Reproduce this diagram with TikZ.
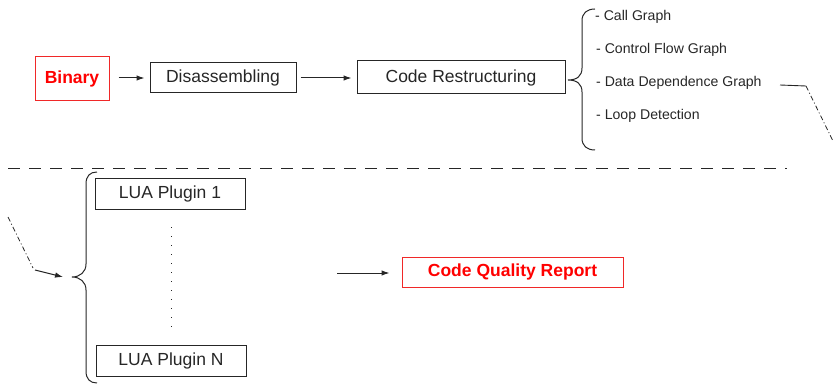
\documentclass[tikz,border=0pt]{standalone}
\usepackage{fontspec}
\setmainfont{Liberation Sans}
\usetikzlibrary{arrows.meta}
\definecolor{alertred}{RGB}{255,0,0}
\definecolor{alertframe}{RGB}{240,40,40}
\begin{document}
\begin{tikzpicture}[x=1pt,y=-1pt,
  stagebox/.style={draw=black!85,line width=1pt,text=black!85,inner sep=0pt,
    font=\fontsize{17.5}{20}\selectfont},
  alertbox/.style={draw=alertframe,line width=1pt,text=alertred,inner sep=0pt,
    font=\fontsize{17.5}{20}\selectfont\bfseries},
  listitem/.style={anchor=base west,inner sep=0pt,text=black!85,
    font=\fontsize{14.1}{16}\selectfont},
  flow/.style={line width=1pt,black!85,-{Latex[length=8pt,width=5.5pt]}},
  wrapline/.style={line width=0.8pt,black!85,dash pattern=on 5pt off 2.5pt on 1pt off 2.5pt},
  bracket/.style={line width=1pt,black!85}]
\useasboundingbox (0,0) rectangle (833,385);

% first stage: binary through restructuring
\node[alertbox,minimum width=74pt,minimum height=44pt] (binary) at (72,79) {Binary};
\node[stagebox,minimum width=146pt,minimum height=30pt] (disasm) at (223,78) {Disassembling};
\node[stagebox,minimum width=208pt,minimum height=33pt] (restr) at (461,77.5) {Code Restructuring};

\draw[flow,shorten <=9pt,shorten >=5pt] (binary.east |- disasm.west) -- (disasm.west);
\draw[flow,shorten <=4pt,shorten >=5pt] (disasm.east) -- (restr.west |- disasm.east);

% products of restructuring
\node[listitem] (cg)   at (595,21)  {- Call Graph};
\node[listitem] (cfg)  at (596,54)  {- Control Flow Graph};
\node[listitem] (ddg)  at (596,87)  {- Data Dependence Graph};
\node[listitem] (loop) at (596,120) {- Loop Detection};

\draw[bracket] (595,9) .. controls (587,9) and (582,13) .. (582,21)
  -- (582,68) .. controls (582,76) and (577,80) .. (568,80)
  .. controls (577,80) and (582,84) .. (582,92)
  -- (582,138) .. controls (582,146) and (587,150) .. (595,150);

% page separator
\draw[line width=0.9pt,black!85,dash pattern=on 12pt off 9pt] (8,168) -- (787,168);

% wrap-around connector to the plugins
\coordinate (foldA) at (780,85);
\coordinate (foldB) at (806,86);
\coordinate (foldC) at (833,141);
\coordinate (wrapA) at (8,217);
\coordinate (wrapB) at (33,268);
\coordinate (wrapC) at (35,270);
\coordinate (pluginsIn) at (63,277);
\draw[line width=0.9pt,black!85] (foldA) -- (foldB);
\draw[wrapline] (foldB) -- (foldC);
\draw[wrapline] (wrapA) -- (wrapB);
\draw[flow] (wrapC) -- (pluginsIn);

% plugins
\node[stagebox,minimum width=150pt,minimum height=30pt] (lua1) at (170,194) {LUA Plugin 1};
\node[stagebox,minimum width=150pt,minimum height=31pt] (luaN) at (171,360.5) {LUA Plugin N};
\draw[line width=1pt,black!85,dash pattern=on 1pt off 8pt] (171,227) -- (171,328);

\draw[bracket] (97,172) .. controls (90,172) and (86,176) .. (86,184)
  -- (86,264) .. controls (86,272) and (80,277) .. (72,277)
  .. controls (80,277) and (86,282) .. (86,290)
  -- (86,371) .. controls (86,379) and (90,383) .. (97,383);

% report
\coordinate (reportIn) at (337,273);
\node[alertbox,minimum width=221pt,minimum height=30pt] (report) at (512.5,272) {Code Quality Report};
\draw[flow,shorten >=12pt] (reportIn) -- (report.west |- reportIn);
\end{tikzpicture}
\end{document}
